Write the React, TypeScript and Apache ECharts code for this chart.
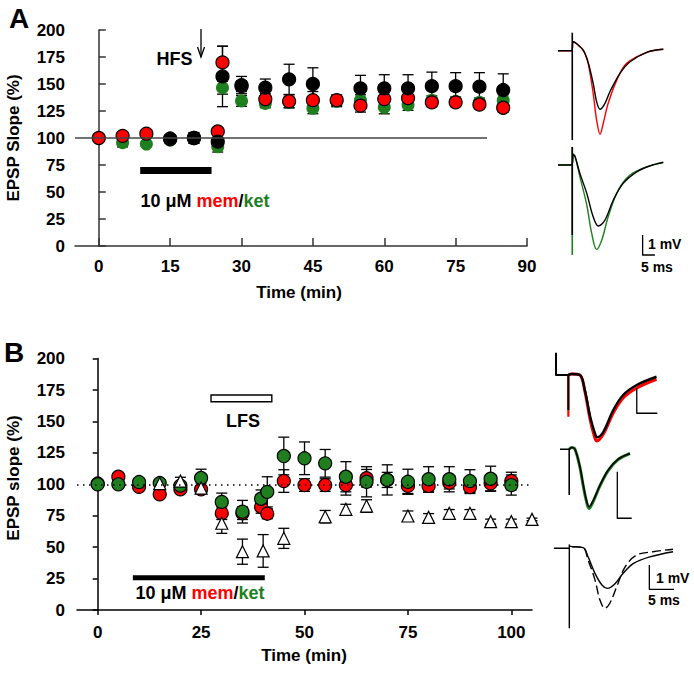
import React, { useEffect, useRef } from 'react';
import * as echarts from 'echarts';

// ---------- Panel A data ----------
const timeA = [0, 5, 10, 15, 20, 25, 26, 30, 35, 40, 45, 50, 55, 60, 65, 70, 75, 80, 85];
const memA = [100, 102, 104, 99, 100, 106, 170, 148, 136, 134, 135, 135, 130, 136, 137, 133, 133, 131, 128];
const memSemA = [1, 2, 2, 2, 2, 2, 15, 5, 5, 6, 8, 5, 6, 6, 6, 4, 4, 4, 4];
const ketA = [100, 95.7, 94.4, 98, 100, 92, 146.6, 134.3, 132, 133, 127.5, 134, 135, 128.4, 130.6, 135, 134, 133, 135];
const ketSemA = [1, 4, 2, 3, 5, 5, 6, 5, 4, 5, 5, 5, 5, 6, 5, 4, 4, 4, 5];
const ctrlA = [null, null, null, 99.5, 100, 96.6, 157, 149, 146.6, 154.3, 150, null, 146, 146, 146, 148, 148, 147.5, 144.4];
const ctrlSemA = [0, 0, 0, 3, 5, 4, 28, 8, 8, 14, 15, 0, 12, 12.6, 12.6, 13, 12.5, 13, 15];
const xTicksA = [0, 15, 30, 45, 60, 75, 90];
const baselineA = [-5, 81.6]; // extent (min) of the 100% reference line
const drugBarA = [8.7, 23.7, 70]; // start, end, level

// ---------- Panel B data ----------
const timeB = [0, 5, 10, 15, 20, 25, 30, 35, 39.5, 41, 45, 50, 55, 60, 65, 70, 75, 80, 85, 90, 95, 100];
const memB = [100.6, 106, 98, 92, 96, 96, 77, 77, 82, 76.6, 102.6, 99.4, 99.4, 99.4, 104.8, 103.5, 98.7, 98.7, 101.3, 97.7, 100.8, 102.6];
const memSemB = [1, 2, 2, 2, 2, 3, 5, 5, 5, 4, 9, 5, 5, 8, 7, 6, 6, 5, 5, 5, 6, 7];
const ketB = [100, 100, 101.8, 101, 99, 105, 86, 78.2, 88.5, 94, 122.5, 120.7, 116.7, 106, 102, 103.5, 102, 104, 104, 102.6, 104.4, 99.4];
const ketSemB = [1, 1, 2, 2, 2, 7, 7, 9, 7, 12, 15, 13, 11, 12, 12, 12, 10, 10, 10, 9, 10, 8];
const timeCtrlB = [15, 20, 25, 30, 35, 40, 45, 55, 60, 65, 75, 80, 85, 90, 95, 100, 105];
const ctrlB = [100.6, 102.6, 97, 69, 46.4, 47, 57, 74.2, 80.1, 82.7, 74.8, 73.7, 76.9, 76.9, 70.3, 70.3, 72.1];
const ctrlSemB = [2, 3, 4, 8, 10, 13, 8, 5, 4, 5, 4, 3, 3, 3, 2, 2, 1];
const xTicksB = [0, 25, 50, 75, 100];
const drugBarB = [8.5, 40.4, 25.7];
const lfsBox = [27.4, 42.1, 165.7, 171]; // x0, x1, y0, y1

// ---------- Example traces (ms, mV) ----------
const stimA1 = [[5.8, 0.9], [5.8, -4.47]];
const waveA1ctrl = [[0, 0], [5.6, 0], [6.1, 0.45], [7.0, 0.4], [8.3, 0.27], [9.8, 0.1], [11, -0.15], [12.3, -0.6], [14.3, -1.63], [15.7, -2.55], [17.1, -2.93], [19.1, -2.63], [21.1, -2.05], [25.2, -1.13], [29.3, -0.55], [36.1, -0.08], [42.8, 0.07]];
const waveA1mem = [[0, 0], [5.6, 0], [6.1, 0.45], [7.0, 0.4], [8.3, 0.27], [9.8, 0.1], [11, -0.15], [12.3, -0.65], [14.3, -2.13], [15.7, -3.47], [17.1, -4.18], [18.4, -3.63], [20.4, -2.63], [23.9, -1.47], [27.9, -0.63], [36.1, -0.08], [42.8, 0.07]];

const stimA2ctrl = [[5.8, 0.9], [5.8, -3.5]];
const stimA2ket = [[5.8, 0.9], [5.8, -4.5]];
const waveA2ctrl = [[0, 0], [5.6, 0], [6.2, 0.5], [6.9, 0.42], [8.9, -0.42], [11.7, -1.42], [14.3, -2.59], [16.4, -3.05], [19.1, -2.75], [22.5, -1.75], [26.5, -0.92], [32, -0.34], [37.4, -0.04], [42.8, 0.14]];
const waveA2ket = [[0, 0], [5.6, 0], [6.2, 0.55], [6.9, 0.45], [8.9, -0.59], [11.7, -2.0], [13.7, -3.42], [15.7, -4.22], [17.8, -3.75], [20.4, -2.59], [24.5, -1.25], [29.3, -0.5], [36.1, -0.09], [42.8, 0.12]];
const scaleA = [[34.4, -3.5], [34.4, -4.5], [39.4, -4.5]];

const stimB1ctrl = [[0, 0.89], [0, 0], [3.0, 0], [3.0, -1.4]];
const stimB1mem = [[3.0, 0], [3.0, -1.67]];
const waveB1ctrl = [[3.0, 0], [3.8, 0.04], [5.8, 0], [7.0, -0.6], [8.3, -1.67], [9.5, -2.36], [10.0, -2.49], [11.5, -2.27], [13.9, -1.4], [16.3, -0.8], [19.6, -0.4], [24.4, -0.07]];
const waveB1mem = [[3.0, 0], [3.8, 0.04], [5.8, 0], [7.0, -0.65], [8.3, -1.8], [9.4, -2.5], [9.9, -2.64], [11.5, -2.36], [13.9, -1.52], [16.3, -0.92], [19.6, -0.52], [24.4, -0.17]];
const scaleB1 = [[19.6, -0.53], [19.6, -1.53], [24.6, -1.53]];

const stimB2 = [[0, 0], [3.2, 0], [3.2, -0.98]];
const waveB2ket = [[3.2, 0], [4.1, 0.04], [5.2, 0], [6.9, -0.38], [8.1, -0.8], [9.3, -1.15], [10.1, -1.27], [11.6, -1.11], [13.9, -0.78], [16.8, -0.45], [20.2, -0.22], [24.3, -0.09]];
const waveB2ctrl = [[3.2, 0], [4.1, 0.04], [5.2, 0], [6.9, -0.37], [8.1, -0.77], [9.3, -1.12], [10.1, -1.23], [11.6, -1.09], [13.9, -0.77], [16.8, -0.44], [20.2, -0.21], [24.3, -0.09]];
const scaleB2 = [[19.9, -0.48], [19.9, -1.48], [24.9, -1.48]];

const stimB3 = [[0, 0], [3.1, 0], [3.1, 0.14], [3.1, -3.29]];
const waveB3ctrl = [[3.1, 0.1], [3.6, 0.07], [5.9, 0.03], [6.9, -0.35], [8.3, -1.03], [9.7, -1.51], [10.8, -1.65], [12.3, -1.47], [14.0, -1.03], [16.1, -0.62], [19.4, -0.35], [24.1, -0.14]];
const waveB3drug = [[3.6, 0.07], [5.9, 0.03], [6.9, -0.48], [8.3, -1.3], [9.3, -2.13], [10.3, -2.47], [11.3, -2.26], [12.7, -1.58], [14.4, -0.76], [16.7, -0.28], [20.1, -0.14], [24.1, -0.04]];
const scaleB3 = [[19.3, -0.69], [19.3, -1.69], [24.3, -1.69]];

// ---------- styling ----------
const FONT = 'Arial, "Liberation Sans", Helvetica, sans-serif';
const RED = '#ff0000';
const GREEN = '#1f7f1f';
const AXIS = '#333';

// inset layout: left px, baseline px, px/ms, px/mV, ms range, mV range
const insets = [
  { left: 558, base: 50.7, kx: 2.46, ky: 20, xr: [0, 44], yr: [-4.6, 1.2] },
  { left: 558, base: 165, kx: 2.46, ky: 20, xr: [0, 44], yr: [-4.8, 1.2] },
  { left: 556, base: 375, kx: 4.12, ky: 25, xr: [0, 27], yr: [-2.8, 1.2] },
  { left: 560, base: 449.3, kx: 2.88, ky: 46.6, xr: [0, 26], yr: [-1.6, 0.4] },
  { left: 554, base: 548.3, kx: 4.94, ky: 24.3, xr: [0, 25], yr: [-3.5, 0.6] },
];

const traces = [
  { g: 0, data: waveA1mem, color: RED, w: 1.4, smooth: true },
  { g: 0, data: waveA1ctrl, color: '#000', w: 1.4, smooth: true },
  { g: 0, data: stimA1, color: '#000', w: 1.6, smooth: false },
  { g: 1, data: stimA2ket, color: GREEN, w: 1.6, smooth: false },
  { g: 1, data: waveA2ket, color: GREEN, w: 1.4, smooth: true },
  { g: 1, data: stimA2ctrl, color: '#000', w: 1.6, smooth: false },
  { g: 1, data: waveA2ctrl, color: '#000', w: 1.4, smooth: true },
  { g: 1, data: scaleA, color: '#000', w: 1.3, smooth: false },
  { g: 2, data: stimB1mem, color: RED, w: 2.2, smooth: false },
  { g: 2, data: waveB1mem, color: RED, w: 3, smooth: true },
  { g: 2, data: stimB1ctrl, color: '#000', w: 2, smooth: false },
  { g: 2, data: waveB1ctrl, color: '#000', w: 2.4, smooth: true },
  { g: 2, data: scaleB1, color: '#000', w: 1.3, smooth: false },
  { g: 3, data: waveB2ket, color: GREEN, w: 3, smooth: true },
  { g: 3, data: stimB2, color: '#000', w: 1.6, smooth: false },
  { g: 3, data: waveB2ctrl, color: '#000', w: 1.6, smooth: true },
  { g: 3, data: scaleB2, color: '#000', w: 1.3, smooth: false },
  { g: 4, data: stimB3, color: '#000', w: 1.4, smooth: false },
  { g: 4, data: waveB3ctrl, color: '#000', w: 1.4, smooth: true },
  { g: 4, data: waveB3drug, color: '#000', w: 1.4, smooth: true, dashed: true },
  { g: 4, data: scaleB3, color: '#000', w: 1.3, smooth: false },
];

function zipErr(t: number[], v: (number | null)[], e: number[]) {
  const out: number[][] = [];
  t.forEach((x, i) => {
    const y = v[i];
    if (y !== null && y !== undefined) out.push([x, y, e[i]]);
  });
  return out;
}
function zipPts(t: number[], v: (number | null)[]) {
  const out: number[][] = [];
  t.forEach((x, i) => {
    const y = v[i];
    if (y !== null && y !== undefined) out.push([x, y]);
  });
  return out;
}

const errRender = (params: any, api: any) => {
  const x = api.value(0);
  const y = api.value(1);
  const e = api.value(2);
  const top = api.coord([x, y + e]);
  const bot = api.coord([x, y - e]);
  const hw = 5.5;
  const style = { stroke: '#000', lineWidth: 1.3 };
  return {
    type: 'group',
    children: [
      { type: 'line', shape: { x1: top[0], y1: top[1], x2: bot[0], y2: bot[1] }, style },
      { type: 'line', shape: { x1: top[0] - hw, y1: top[1], x2: top[0] + hw, y2: top[1] }, style },
      { type: 'line', shape: { x1: bot[0] - hw, y1: bot[1], x2: bot[0] + hw, y2: bot[1] }, style },
    ],
  };
};

function errSeries(grid: number, data: number[][]) {
  return {
    type: 'custom',
    xAxisIndex: grid,
    yAxisIndex: grid,
    renderItem: errRender,
    data,
    encode: { x: 0, y: 1 },
    silent: true,
    clip: false,
  };
}
function dotSeries(grid: number, data: number[][], color: string, border: string | null, symbol = 'circle', size = 13) {
  return {
    type: 'scatter',
    xAxisIndex: grid,
    yAxisIndex: grid,
    symbol,
    symbolSize: size,
    data,
    silent: true,
    clip: false,
    itemStyle: border
      ? { color, borderColor: border, borderWidth: 1.2, opacity: 1 }
      : { color, borderWidth: 0, opacity: 1 },
  };
}

const labelStyle = { color: '#000', fontWeight: 'bold' as const, fontSize: 17, fontFamily: FONT };

function buildOption() {
  const grids: any[] = [
    { left: 75, top: 30, width: 452, height: 216 },
    { left: 77, top: 358.6, width: 455, height: 251.4 },
  ];
  const xAxes: any[] = [
    {
      type: 'value', gridIndex: 0, min: -5, max: 90,
      axisLine: { show: true, lineStyle: { color: AXIS, width: 1.5 } },
      axisTick: { show: true, inside: true, length: 8, customValues: xTicksA, lineStyle: { color: AXIS, width: 1.5 } },
      axisLabel: { ...labelStyle, customValues: xTicksA, margin: 12 },
      splitLine: { show: false },
    },
    {
      type: 'value', gridIndex: 1, min: -5, max: 105,
      axisLine: { show: true, lineStyle: { color: '#000', width: 1.5 } },
      axisTick: { show: true, inside: false, length: 5, customValues: xTicksB, lineStyle: { color: '#000', width: 1.5 } },
      axisLabel: { ...labelStyle, customValues: xTicksB, margin: 14 },
      splitLine: { show: false },
    },
  ];
  const yAxes: any[] = [
    {
      type: 'value', gridIndex: 0, min: 0, max: 200, interval: 25,
      axisLine: { show: true, lineStyle: { color: AXIS, width: 1.5 } },
      axisTick: { show: true, inside: true, length: 7, lineStyle: { color: AXIS, width: 1.5 } },
      axisLabel: { ...labelStyle, margin: 10 },
      splitLine: { show: false },
    },
    {
      type: 'value', gridIndex: 1, min: 0, max: 200, interval: 25,
      axisLine: { show: true, lineStyle: { color: '#000', width: 1.5 } },
      axisTick: { show: true, inside: false, length: 5, lineStyle: { color: '#000', width: 1.5 } },
      axisLabel: { ...labelStyle, margin: 12 },
      splitLine: { show: false },
    },
  ];
  insets.forEach((s, i) => {
    grids.push({
      left: s.left,
      top: s.base - s.yr[1] * s.ky,
      width: (s.xr[1] - s.xr[0]) * s.kx,
      height: (s.yr[1] - s.yr[0]) * s.ky,
    });
    xAxes.push({ type: 'value', gridIndex: i + 2, min: s.xr[0], max: s.xr[1], show: false });
    yAxes.push({ type: 'value', gridIndex: i + 2, min: s.yr[0], max: s.yr[1], show: false });
  });

  const series: any[] = [
    // panel A reference line & drug bar
    {
      type: 'line', xAxisIndex: 0, yAxisIndex: 0, silent: true, symbol: 'none',
      data: [[baselineA[0], 100], [baselineA[1], 100]],
      lineStyle: { color: '#444', width: 1.4 },
    },
    {
      type: 'line', xAxisIndex: 0, yAxisIndex: 0, silent: true, symbol: 'none',
      data: [[drugBarA[0], drugBarA[2]], [drugBarA[1], drugBarA[2]]],
      lineStyle: { color: '#000', width: 7, cap: 'butt' },
    },
    errSeries(0, zipErr(timeA, ketA, ketSemA)),
    dotSeries(0, zipPts(timeA, ketA), GREEN, null),
    errSeries(0, zipErr(timeA, memA, memSemA)),
    dotSeries(0, zipPts(timeA, memA), RED, '#000'),
    errSeries(0, zipErr(timeA, ctrlA, ctrlSemA)),
    dotSeries(0, zipPts(timeA, ctrlA), '#000', '#000'),
    // panel B drug bar + dotted 100% line + LFS box
    {
      type: 'line', xAxisIndex: 1, yAxisIndex: 1, silent: true, symbol: 'none',
      data: [[drugBarB[0], drugBarB[2]], [drugBarB[1], drugBarB[2]]],
      lineStyle: { color: '#000', width: 5, cap: 'butt' },
      markLine: {
        silent: true, symbol: 'none', label: { show: false },
        lineStyle: { type: [1.5, 4.5], color: '#000', width: 1.5 },
        data: [{ yAxis: 100 }],
      },
      markArea: {
        silent: true, label: { show: false },
        itemStyle: { color: '#fff', borderColor: '#000', borderWidth: 1.4 },
        data: [[{ xAxis: lfsBox[0], yAxis: lfsBox[2] }, { xAxis: lfsBox[1], yAxis: lfsBox[3] }]],
      },
    },
    errSeries(1, zipErr(timeB, memB, memSemB)),
    dotSeries(1, zipPts(timeB, memB), RED, '#000'),
    errSeries(1, zipErr(timeB, ketB, ketSemB)),
    dotSeries(1, zipPts(timeB, ketB), GREEN, '#000'),
    errSeries(1, zipErr(timeCtrlB, ctrlB, ctrlSemB)),
    dotSeries(1, zipPts(timeCtrlB, ctrlB), '#fff', '#000', 'triangle', 12),
  ];

  traces.forEach((t) => {
    series.push({
      type: 'line', xAxisIndex: t.g + 2, yAxisIndex: t.g + 2, silent: true,
      symbol: 'none', clip: false, smooth: t.smooth ? 0.35 : false,
      data: t.data,
      lineStyle: { color: t.color, width: t.w, type: t.dashed ? [9, 4] : 'solid', join: 'round' },
    });
  });

  const txt = (text: string, x: number, y: number, size: number, extra: any = {}) => ({
    type: 'text', x, y, silent: true, ...extra,
    style: {
      text, fill: '#000', fontFamily: FONT, fontWeight: 'bold', fontSize: size,
      align: 'center', verticalAlign: 'middle', ...(extra.style || {}),
    },
  });
  const rich = {
    k: { fill: '#000', color: '#000', fontFamily: FONT, fontWeight: 'bold', fontSize: 18 },
    r: { fill: RED, color: RED, fontFamily: FONT, fontWeight: 'bold', fontSize: 18 },
    g: { fill: GREEN, color: GREEN, fontFamily: FONT, fontWeight: 'bold', fontSize: 18 },
  };
  const drugLabel = '{k|10 μM }{r|mem}{k|/}{g|ket}';

  const graphic: any[] = [
    txt('A', 19, 18, 28),
    txt('B', 14, 352, 28),
    txt('EPSP Slope (%)', 13, 138, 17, { rotation: Math.PI / 2 }),
    txt('EPSP slope (%)', 13, 478, 17, { rotation: Math.PI / 2 }),
    txt('Time (min)', 299, 292, 17),
    txt('Time (min)', 304, 655, 17),
    txt('HFS', 174.5, 59, 18),
    txt('LFS', 243, 421, 18),
    { type: 'line', silent: true, shape: { x1: 201, y1: 29, x2: 201, y2: 57 }, style: { stroke: '#000', lineWidth: 1.3 } },
    { type: 'polyline', silent: true, shape: { points: [[197.5, 47], [201, 57], [204.5, 47]] }, style: { stroke: '#000', lineWidth: 1.3, fill: null } },
    { type: 'text', x: 205, y: 201, silent: true, style: { text: drugLabel, rich, align: 'center', verticalAlign: 'middle' } },
    { type: 'text', x: 200, y: 593, silent: true, style: { text: drugLabel, rich, align: 'center', verticalAlign: 'middle' } },
    txt('1 mV', 648, 244, 14, { style: { align: 'left' } }),
    txt('5 ms', 641, 267, 14, { style: { align: 'left' } }),
    txt('1 mV', 656, 578, 14, { style: { align: 'left' } }),
    txt('5 ms', 648, 600, 14, { style: { align: 'left' } }),
  ];

  return {
    animation: false,
    backgroundColor: '#fff',
    grid: grids,
    xAxis: xAxes,
    yAxis: yAxes,
    series,
    graphic,
  };
}

export default function App() {
  const ref = useRef<HTMLDivElement | null>(null);
  useEffect(() => {
    if (!ref.current) return;
    const chart = echarts.init(ref.current, undefined, { renderer: 'svg' });
    chart.setOption(buildOption() as any);
    return () => chart.dispose();
  }, []);
  return (
    <div
      ref={ref}
      style={{ position: 'fixed', left: 0, top: 0, width: 694, height: 673, background: '#fff' }}
    />
  );
}
